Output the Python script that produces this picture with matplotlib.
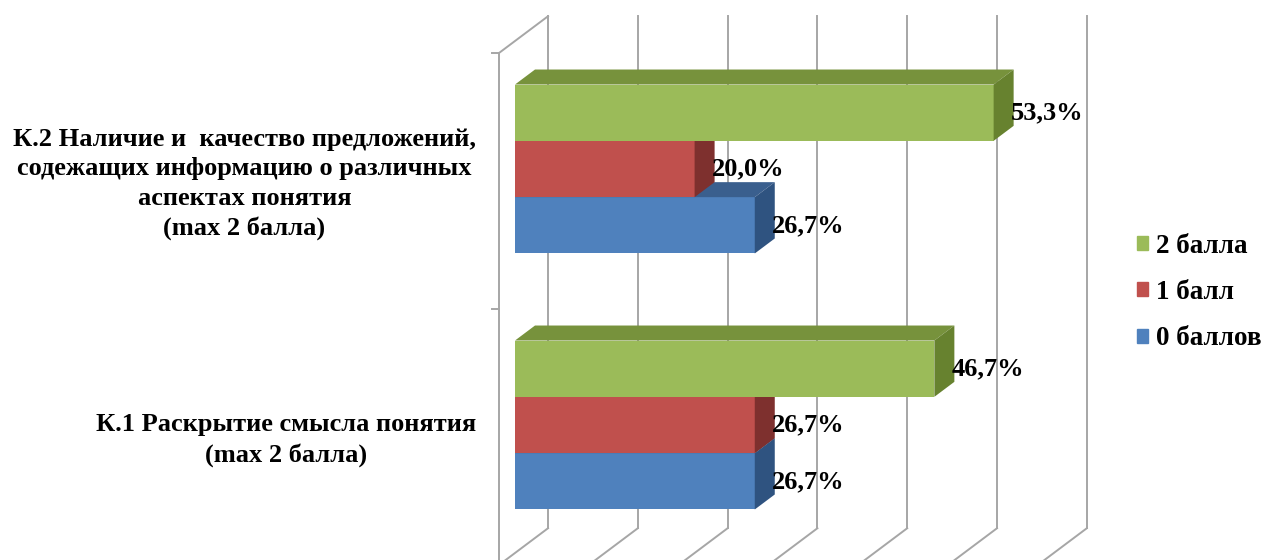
import matplotlib.pyplot as plt
from matplotlib.patches import Patch

# data
categories = ['К.1 Раскрытие смысла понятия\n(max 2 балла)',
              'К.2 Наличие и  качество предложений,\nсодежащих информацию о различных\nаспектах понятия\n(max 2 балла)']
series_names = ['0 баллов', '1 балл', '2 балла']
score0 = [26.7, 26.7]
score1 = [26.7, 20.0]
score2 = [46.7, 53.3]
ticks = [0, 10, 20, 30, 40, 50, 60]

# colours: front, top, side
blue = ('#4F81BD', '#3A5F8E', '#2F5380')
red = ('#C0504D', '#9C3F3C', '#7E302E')
green = ('#9BBB59', '#77923C', '#67822F')
grid_color = '#A6A6A6'

# oblique "3D" geometry (pixel offsets converted to data units)
PX = 8.98   # pixels per percent
UY = 256.0  # pixels per category
D_BAR, D_BACK, D_FRONT = 20, 33, -16
BAR_H = 0.22


def off(d):
    return d / PX, 0.75 * d / UY


def pct(v):
    return f'{v:.1f}%'.replace('.', ',')


font = dict(family='Liberation Serif', weight='bold')

fig = plt.figure(figsize=(12.66, 5.6), dpi=100)
ax = fig.add_axes([0, 0, 1, 1])
ax.set_xlim(-515 / PX, 751 / PX)
ax.set_ylim(-135 / UY, 425 / UY)
ax.axis('off')

# walls and gridlines
bx, by = off(D_BACK)
fx, fy = off(D_FRONT)
for t in ticks:
    ax.plot([t + bx, t + bx], [-0.5 + by, 1.5 + by], color=grid_color, lw=1.4, zorder=1)
    ax.plot([t + bx, t + fx], [-0.5 + by, -0.5 + fy], color=grid_color, lw=1.4, zorder=1)
ax.plot([fx, fx], [-0.5 + fy, 1.5 + fy], color=grid_color, lw=1.4, zorder=1)
ax.plot([fx, bx], [1.5 + fy, 1.5 + by], color=grid_color, lw=1.4, zorder=1)
for y in [-0.5, 0.5, 1.5]:
    ax.plot([fx - 7 / PX, fx], [y + fy, y + fy], color=grid_color, lw=1.4, zorder=1)

# bars, drawn bottom to top so upper bars hide the top faces below
dx, dy = off(D_BAR)
for vals, shift, cols, z in [(score0, -BAR_H, blue, 3),
                              (score1, 0.0, red, 4),
                              (score2, BAR_H, green, 5)]:
    ys = [i + shift for i in range(len(categories))]
    ax.barh(ys, vals, height=BAR_H, color=cols[0], lw=0, zorder=z)
    for y, v in zip(ys, vals):
        top = y + BAR_H / 2
        bot = y - BAR_H / 2
        ax.fill([0, v, v + dx, dx], [top, top, top + dy, top + dy], color=cols[1], lw=0, zorder=z)
        ax.fill([v, v + dx, v + dx, v], [bot, bot + dy, top + dy, top], color=cols[2], lw=0, zorder=z)
        ax.text(v + 17 / PX, y, pct(v), ha='left', va='center', fontsize=19, zorder=10, **font)

# category labels
for i, lab in enumerate(categories):
    ax.text(fx - 23 / PX, i + fy - 3 / UY, lab, ha='right', va='center', multialignment='center',
            fontsize=19, linespacing=1.36, **font)

# legend
handles = [Patch(color=green[0]), Patch(color=red[0]), Patch(color=blue[0])]
fig.legend(handles, series_names[::-1], loc='upper left',
           bbox_to_anchor=(1137 / 1266, 1 - 234 / 560), frameon=False,
           prop=dict(family='Liberation Serif', weight='bold', size=19.5),
           handlelength=0.42, handleheight=0.42, handletextpad=0.3,
           labelspacing=0.78, borderpad=0, borderaxespad=0)

fig.savefig('out.png', dpi=100)
